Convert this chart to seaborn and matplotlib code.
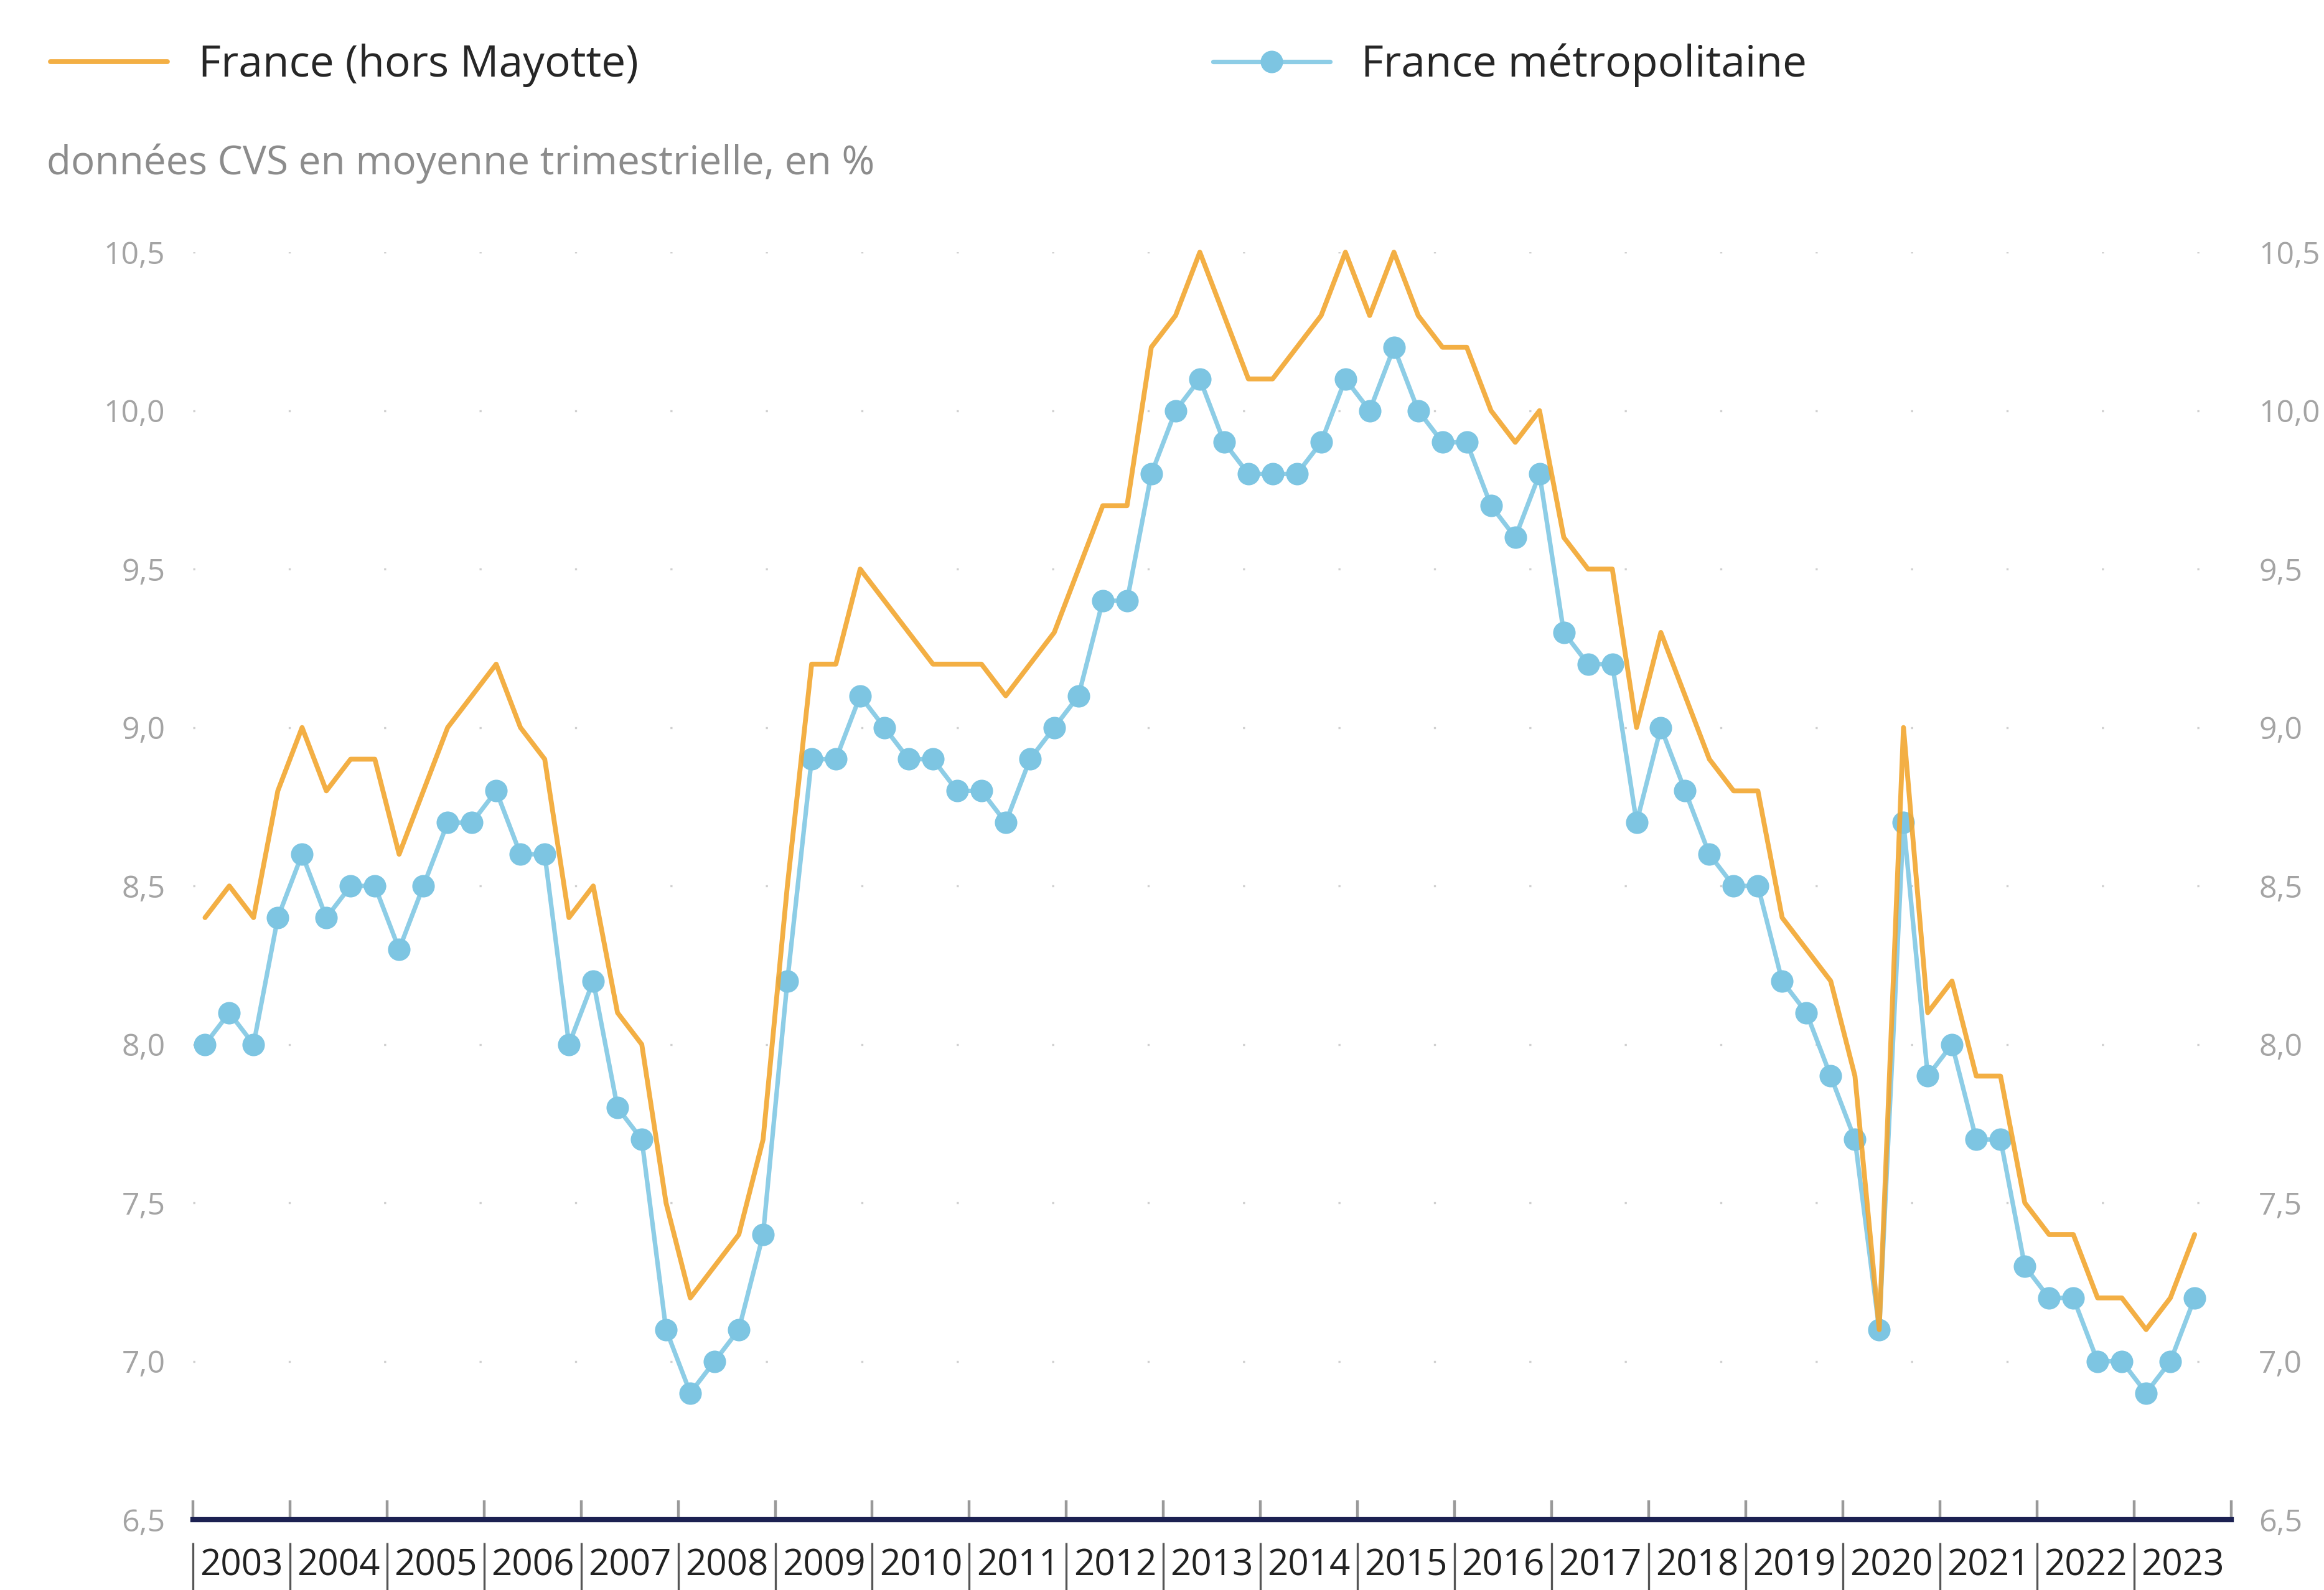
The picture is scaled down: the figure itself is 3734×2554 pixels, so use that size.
import matplotlib
matplotlib.use('Agg')
import matplotlib.pyplot as plt
import matplotlib.ticker as mticker
import numpy as np
import pandas as pd
import seaborn as sns

# taux de chômage trimestriel, 2003T1 -> 2023T3
ANNEES = list(range(2003, 2024))
TRIMESTRES = [1, 2, 3, 4]

FRANCE_HORS_MAYOTTE = [
    8.4, 8.5, 8.4, 8.8,   # 2003
    9.0, 8.8, 8.9, 8.9,   # 2004
    8.6, 8.8, 9.0, 9.1,   # 2005
    9.2, 9.0, 8.9, 8.4,   # 2006
    8.5, 8.1, 8.0, 7.5,   # 2007
    7.2, 7.3, 7.4, 7.7,   # 2008
    8.5, 9.2, 9.2, 9.5,   # 2009
    9.4, 9.3, 9.2, 9.2,   # 2010
    9.2, 9.1, 9.2, 9.3,   # 2011
    9.5, 9.7, 9.7, 10.2,  # 2012
    10.3, 10.5, 10.3, 10.1,  # 2013
    10.1, 10.2, 10.3, 10.5,  # 2014
    10.3, 10.5, 10.3, 10.2,  # 2015
    10.2, 10.0, 9.9, 10.0,   # 2016
    9.6, 9.5, 9.5, 9.0,   # 2017
    9.3, 9.1, 8.9, 8.8,   # 2018
    8.8, 8.4, 8.3, 8.2,   # 2019
    7.9, 7.1, 9.0, 8.1,   # 2020
    8.2, 7.9, 7.9, 7.5,   # 2021
    7.4, 7.4, 7.2, 7.2,   # 2022
    7.1, 7.2, 7.4,        # 2023
]
FRANCE_METRO = [
    8.0, 8.1, 8.0, 8.4,
    8.6, 8.4, 8.5, 8.5,
    8.3, 8.5, 8.7, 8.7,
    8.8, 8.6, 8.6, 8.0,
    8.2, 7.8, 7.7, 7.1,
    6.9, 7.0, 7.1, 7.4,
    8.2, 8.9, 8.9, 9.1,
    9.0, 8.9, 8.9, 8.8,
    8.8, 8.7, 8.9, 9.0,
    9.1, 9.4, 9.4, 9.8,
    10.0, 10.1, 9.9, 9.8,
    9.8, 9.8, 9.9, 10.1,
    10.0, 10.2, 10.0, 9.9,
    9.9, 9.7, 9.6, 9.8,
    9.3, 9.2, 9.2, 8.7,
    9.0, 8.8, 8.6, 8.5,
    8.5, 8.2, 8.1, 7.9,
    7.7, 7.1, 8.7, 7.9,
    8.0, 7.7, 7.7, 7.3,
    7.2, 7.2, 7.0, 7.0,
    6.9, 7.0, 7.2,
]
YTICKS = [6.5, 7.0, 7.5, 8.0, 8.5, 9.0, 9.5, 10.0, 10.5]
LEGENDE = ['France (hors Mayotte)', 'France métropolitaine']
SOUS_TITRE = 'données CVS en moyenne trimestrielle, en %'

ORANGE = '#F2A630'
BLEU = '#8DCDE6'
BLEU_PT = '#7DC5E2'

rows = [(a, t) for a in ANNEES for t in TRIMESTRES][:len(FRANCE_METRO)]
df = pd.DataFrame(rows, columns=['annee', 'trim'])
df['x'] = df['annee'] + (df['trim'] - 0.5) / 4
df['hors_mayotte'] = FRANCE_HORS_MAYOTTE
df['metro'] = FRANCE_METRO

sns.set_theme(style='white')
plt.rcParams['font.family'] = ['Open Sans', 'DejaVu Sans']

fig = plt.figure(figsize=(18.67, 12.77), dpi=200)
ax = fig.add_axes([0.083, 0.0442, 0.877, 0.7972])

sns.lineplot(data=df, x='x', y='metro', ax=ax, color=BLEU, lw=2.6,
             marker='o', markersize=13, markerfacecolor=BLEU_PT,
             markeredgewidth=0, label=LEGENDE[1], legend=False, zorder=3,
             clip_on=False)
sns.lineplot(data=df, x='x', y='hors_mayotte', ax=ax, color=ORANGE, lw=2.8,
             alpha=0.9, label=LEGENDE[0], legend=False, zorder=4, clip_on=False)

ax.set_xlim(ANNEES[0], ANNEES[-1] + 1)
ax.set_ylim(YTICKS[0], YTICKS[-1])
ax.set_xlabel(''); ax.set_ylabel('')

ax.set_yticks(YTICKS)
ax.set_yticklabels([f'{v:.1f}'.replace('.', ',') for v in YTICKS])
ax.tick_params(axis='y', left=False, right=False, labelleft=True, labelright=True,
               labelsize=18, labelcolor='#a4a4a4', pad=10)
ax.grid(axis='y', color='#d0d0d0', ls=(0, (1, 45)), lw=1.2)

bornes = ANNEES + [ANNEES[-1] + 1]
ax.xaxis.set_major_locator(mticker.FixedLocator(bornes))
ax.xaxis.set_major_formatter(mticker.NullFormatter())
ax.xaxis.set_minor_locator(mticker.FixedLocator([a + 0.5 for a in ANNEES]))
ax.xaxis.set_minor_formatter(mticker.FixedFormatter([str(a) for a in ANNEES]))
ax.tick_params(axis='x', which='major', direction='in', length=11, width=1.6,
               color='#9a9a9a', bottom=True)
ax.tick_params(axis='x', which='minor', length=0, labelsize=21,
               labelcolor='#222222', pad=16)
ax.vlines(bornes[:-1], -0.018, -0.06, transform=ax.get_xaxis_transform(),
          color='#555555', lw=1.2, clip_on=False)

for s in ['top', 'left', 'right']:
    ax.spines[s].set_visible(False)
ax.spines['bottom'].set_color('#1c2152')
ax.spines['bottom'].set_linewidth(3)

h, l = ax.get_legend_handles_labels()
order = [l.index(LEGENDE[0]), l.index(LEGENDE[1])]
fig.legend([h[i] for i in order], [l[i] for i in order], loc='center left',
           bbox_to_anchor=(0.005, 0.959), ncol=2, frameon=False, fontsize=25,
           handlelength=2.7, handletextpad=0.72, columnspacing=13.3,
           prop={'size': 25, 'weight': 'medium'})
fig.text(0.02, 0.897, SOUS_TITRE, color='#8c8c8c', fontsize=23, va='center')

fig.savefig('out.png', dpi=200, facecolor='white')
